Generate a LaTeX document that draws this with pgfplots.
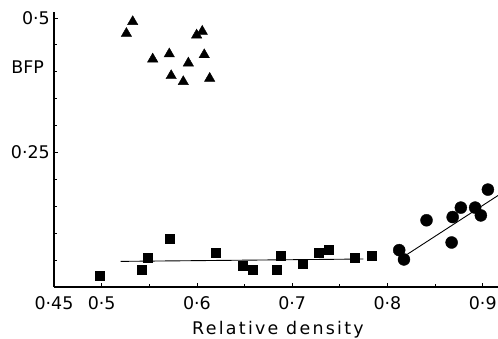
\documentclass[border=0pt]{standalone}
\usepackage{fontspec}
\setmainfont{DejaVu Sans}
\newfontfamily\lsfont[LetterSpace=13]{DejaVu Sans}
\usepackage{pgfplots}
\pgfplotsset{compat=1.18}
\begin{document}
\begin{tikzpicture}
\useasboundingbox (-54bp,-52bp) rectangle (444bp,287bp);
\begin{axis}[
  at={(0,0)}, anchor=south west,
  scale only axis, width=444bp, height=275bp,
  xmin=0.45, xmax=0.916, ymin=0, ymax=0.511,
  axis x line*=bottom, axis y line*=left,
  axis line style={line width=1.1pt},
  tick align=inside,
  major tick length=4bp, minor tick length=3bp,
  tick style={line width=0.8pt, black},
  xtick={0.45,0.5,0.6,0.7,0.8,0.9},
  xticklabels={0·45,0·5,0·6,0·7,0·8,0·9},
  minor xtick={0.55,0.65,0.75,0.85},
  ytick={0.25,0.5},
  yticklabels={0·25,0·5},
  minor ytick={0.05,0.1,0.15,0.2,0.3,0.35,0.4,0.45},
  /pgf/number format/assume math mode=true,
  ticklabel style={font=\fontsize{17.5}{20}\selectfont},
  xticklabel style={anchor=north, inner sep=0pt, yshift=-9bp},
  yticklabel style={anchor=east, inner sep=0pt, xshift=-4bp},
  xlabel={Relative density},
  xlabel style={font=\lsfont\fontsize{17.5}{20}\selectfont, at={(axis description cs:0.5,0)}, anchor=base, inner sep=0pt, yshift=-47.5bp, xshift=2bp},
  clip=false,
]
\addplot[only marks, mark=triangle*, mark size=6bp, black] coordinates {
(0.5326,0.493) (0.526,0.471) (0.6056,0.475) (0.5997,0.468) (0.5536,0.4235)
(0.571,0.433) (0.6077,0.4315) (0.591,0.416) (0.573,0.3926) (0.5857,0.3815) (0.6134,0.3876)
};
\addplot[only marks, mark=square*, mark size=4.5bp, black] coordinates {
(0.4976,0.021) (0.5416,0.0327) (0.548,0.055) (0.5714,0.0895) (0.620,0.063)
(0.6483,0.040) (0.659,0.0327) (0.6837,0.0327) (0.688,0.059) (0.7105,0.0426)
(0.7274,0.0636) (0.7382,0.0685) (0.7651,0.0543) (0.7837,0.059)
};
\addplot[only marks, mark=*, mark size=6bp, black] coordinates {
(0.8123,0.0685) (0.8173,0.0512) (0.841,0.124) (0.8673,0.0827) (0.8684,0.130)
(0.877,0.1475) (0.892,0.1475) (0.898,0.133) (0.9054,0.181)
};
\addplot[no marks, black, line width=0.9pt] coordinates {(0.52,0.0476) (0.7746,0.052)};
\addplot[no marks, black, line width=0.9pt] coordinates {(0.821,0.061) (0.916,0.170)};
\node[anchor=east, inner sep=0pt, font=\fontsize{17.5}{20}\selectfont] at (axis cs:0.45,0.408) [xshift=-10bp] {BFP};
\end{axis}
\end{tikzpicture}
\end{document}
